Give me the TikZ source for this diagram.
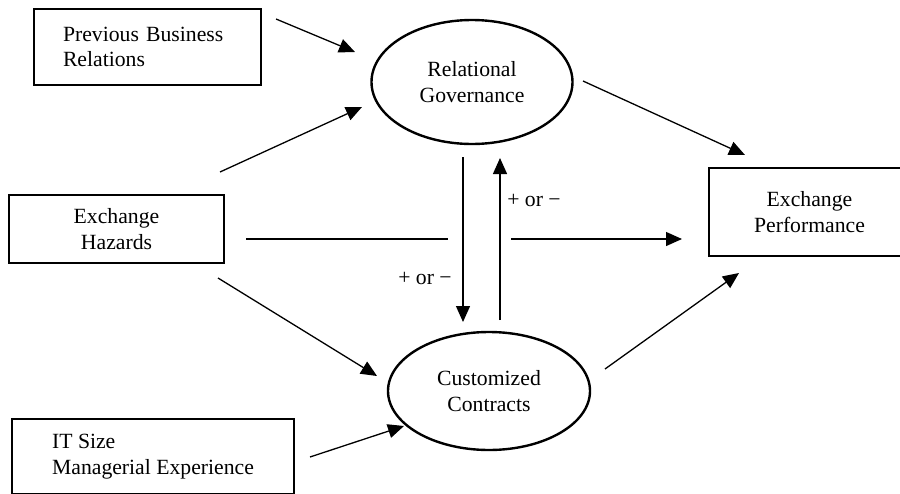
\documentclass[tikz,border=0pt]{standalone}
\usepackage{fontspec}
\setmainfont{Liberation Serif}
\usetikzlibrary{arrows.meta,shapes.geometric}
\begin{document}
\begin{tikzpicture}[x=1pt,y=-1pt,
  every node/.style={font=\fontsize{21.7}{25.5}\selectfont},
  box/.style={draw, rectangle, inner sep=0pt, align=center},
  oval/.style={draw, ellipse, line width=2.4pt, inner sep=0pt, align=center},
  conn/.style={line width=1.3pt, -{Triangle[length=16pt,width=14pt]}},
  plainline/.style={line width=1.3pt},
  lbl/.style={inner sep=0pt}]
\useasboundingbox (0,0) rectangle (900,493);
\clip (0,0) rectangle (900,493);
% nodes
\node[box, line width=1.2pt, minimum width=227pt, minimum height=76pt, text width=169pt, align=left] (pbr) at (147.5,47) {Previous Business\\Relations};
\node[box, line width=2.2pt, minimum width=215pt, minimum height=68pt] (eh) at (116.5,229) {Exchange\\Hazards};
\node[box, line width=1.2pt, minimum width=282pt, minimum height=75pt, align=left] (its) at (153,456.5) {IT Size\\Managerial Experience};
\node[box, line width=2.2pt, minimum width=201pt, minimum height=88pt] (ep) at (809.5,212) {Exchange\\Performance};
\node[oval, minimum width=201pt, minimum height=124pt] (rg) at (472,82) {Relational\\Governance};
\node[oval, minimum width=202pt, minimum height=118pt] (cc) at (489,391) {Customized\\Contracts};
\node[lbl] (lup) at (534,200) {+ or −};
\node[lbl] (ldown) at (425,278) {+ or −};
% connector end points
\coordinate (pbrOut) at (276,19);
\coordinate (rgInA) at (355,52);
\coordinate (ehOutA) at (220,172);
\coordinate (rgInB) at (362,107);
\coordinate (rgOut) at (583,81);
\coordinate (epInA) at (745,155);
\coordinate (ehOutB) at (246,239);
\coordinate (gapL) at (448,239);
\coordinate (gapR) at (511,239);
\coordinate (epInB) at (682,239);
\coordinate (ehOutC) at (218,278);
\coordinate (ccInA) at (377,376);
\coordinate (itsOut) at (310,457);
\coordinate (ccInB) at (404,426);
\coordinate (ccOut) at (605,369);
\coordinate (epInC) at (739,273);
\coordinate (rgDown) at (463,157);
\coordinate (ccTop) at (463,322);
\coordinate (ccUp) at (500,320);
\coordinate (rgBottom) at (500,158);
% connectors
\draw[conn] (pbrOut) -- (rgInA);
\draw[conn] (ehOutA) -- (rgInB);
\draw[conn] (rgOut) -- (epInA);
\draw[plainline] (ehOutB) -- (gapL);
\draw[conn] (gapR) -- (epInB);
\draw[conn] (ehOutC) -- (ccInA);
\draw[conn] (itsOut) -- (ccInB);
\draw[conn] (ccOut) -- (epInC);
\draw[conn] (rgDown) -- (ccTop);
\draw[conn] (ccUp) -- (rgBottom);
\end{tikzpicture}
\end{document}
